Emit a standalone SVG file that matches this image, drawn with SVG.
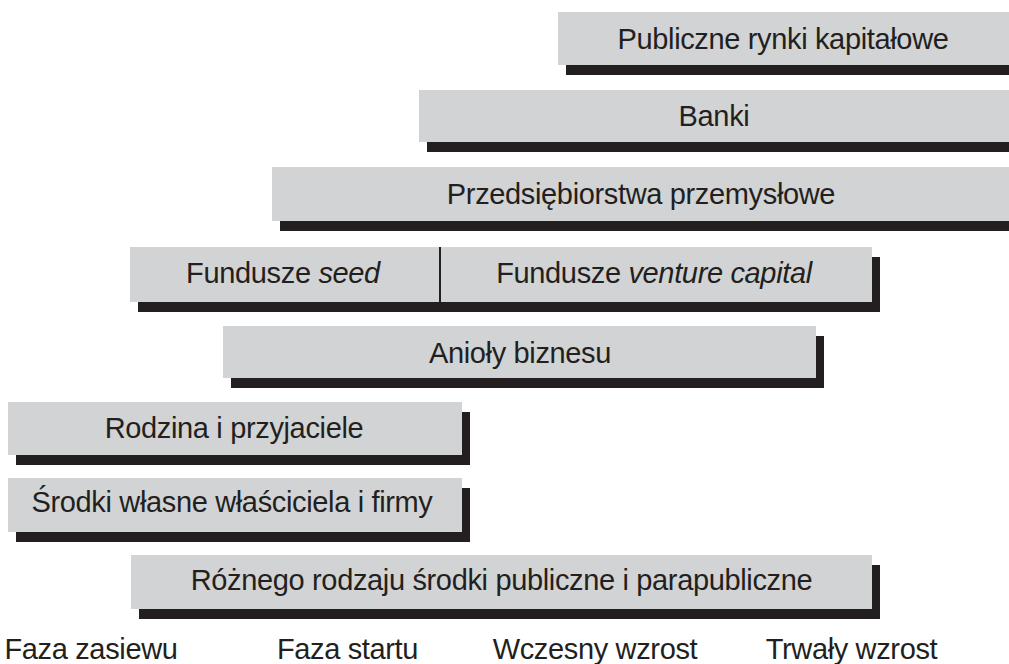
<svg xmlns="http://www.w3.org/2000/svg" width="1009" height="664" viewBox="0 0 1009 664">
<style>
.sh{fill:#231f20}
.bar{fill:#d1d3d4}
.t{font-family:"Liberation Sans",Arial,Helvetica,sans-serif;font-size:29px;letter-spacing:-0.35px;fill:#231f20;text-anchor:middle}
.i{font-style:italic}
</style>
<rect width="1009" height="664" fill="#ffffff"/>
<g id="publiczne-rynki">
<rect class="sh" x="566" y="22" width="460" height="53"/>
<rect class="bar" x="558" y="12" width="460" height="53"/>
<text class="t" x="783" y="49">Publiczne rynki kapitałowe</text>
</g>
<g id="banki">
<rect class="sh" x="427" y="100" width="600" height="52"/>
<rect class="bar" x="419" y="90" width="600" height="52"/>
<text class="t" x="714" y="126">Banki</text>
</g>
<g id="przedsiebiorstwa">
<rect class="sh" x="280" y="177" width="750" height="54"/>
<rect class="bar" x="272" y="167" width="750" height="54"/>
<text class="t" x="641" y="204">Przedsiębiorstwa przemysłowe</text>
</g>
<g id="fundusze">
<rect class="sh" x="138" y="257" width="742" height="55"/>
<rect class="bar" x="130" y="247" width="742" height="55"/>
<line x1="440" y1="247" x2="440" y2="302" stroke="#231f20" stroke-width="2"/>
<text class="t" x="283" y="283">Fundusze <tspan class="i">seed</tspan></text>
<text class="t" x="654" y="283">Fundusze <tspan class="i">venture capital</tspan></text>
</g>
<g id="anioly">
<rect class="sh" x="231" y="336" width="593" height="52"/>
<rect class="bar" x="223" y="326" width="593" height="52"/>
<text class="t" x="520" y="363">Anioły biznesu</text>
</g>
<g id="rodzina">
<rect class="sh" x="16" y="412" width="454" height="53"/>
<rect class="bar" x="8" y="402" width="454" height="53"/>
<text class="t" x="234" y="438">Rodzina i przyjaciele</text>
</g>
<g id="srodki-wlasne">
<rect class="sh" x="16" y="488" width="454" height="54"/>
<rect class="bar" x="8" y="478" width="454" height="54"/>
<text class="t" x="232" y="512">Środki własne właściciela i firmy</text>
</g>
<g id="srodki-publiczne">
<rect class="sh" x="139" y="565" width="741" height="54"/>
<rect class="bar" x="131" y="555" width="741" height="54"/>
<text class="t" x="501.5" y="590">Różnego rodzaju środki publiczne i parapubliczne</text>
</g>
<g id="connectors"/>
<g id="phases">
<text class="t" x="91" y="659">Faza zasiewu</text>
<text class="t" x="347.5" y="659">Faza startu</text>
<text class="t" x="595" y="659">Wczesny wzrost</text>
<text class="t" x="851.5" y="659">Trwały wzrost</text>
</g>
</svg>
